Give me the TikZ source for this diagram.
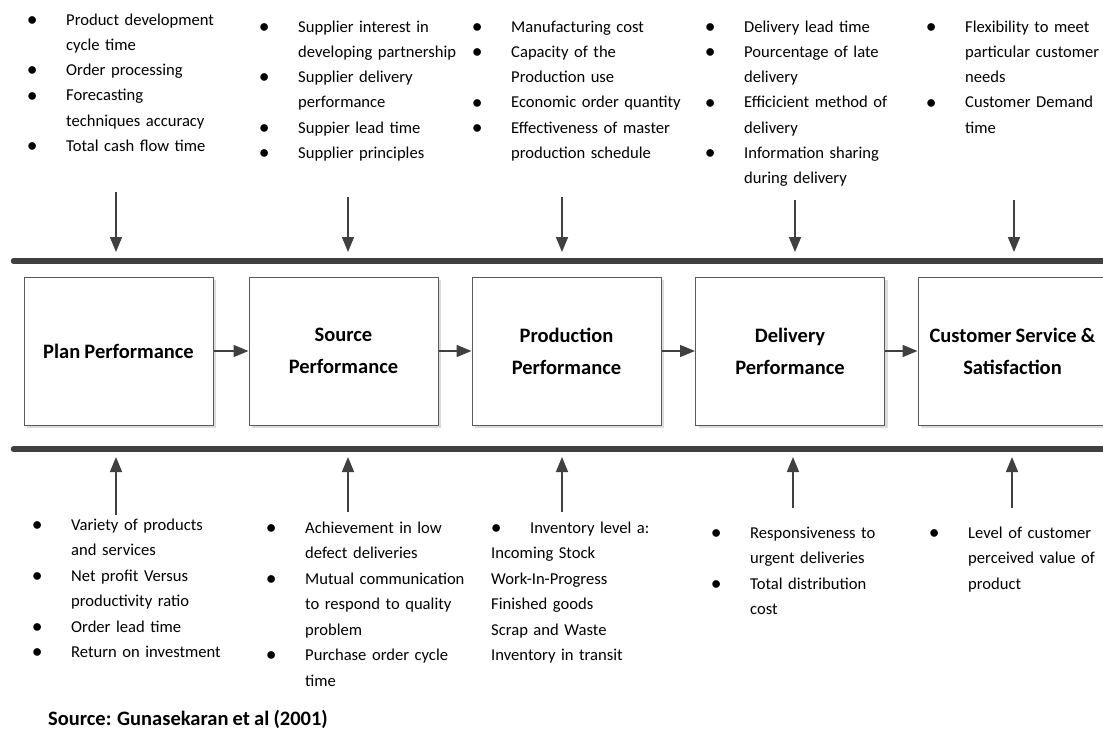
\documentclass[tikz,border=0pt]{standalone}
\usepackage{graphicx}
\usepackage{fontspec}
\setmainfont{Carlito}[WordSpace=0.9]
\usetikzlibrary{arrows.meta,shadows}

\definecolor{barcol}{HTML}{404040}
\definecolor{framecol}{HTML}{5a5a5a}

% bullet mark and continuation indent for the measure lists
\newcommand{\lbul}{\makebox[10pt][c]{\raisebox{-1.2pt}{\scalebox{1.3}{•}}}\hspace{29pt}}
\newcommand{\lcont}{\hspace*{39pt}}

\tikzset{
  bar/.style={draw=barcol, line width=5.5pt, line cap=round},
  arr/.style={draw=barcol, line width=1.6pt, -{Triangle[length=15pt,width=12pt]}},
  stage/.style={draw=framecol, line width=1pt, fill=white,
    minimum width=189pt, minimum height=148pt, inner sep=0pt, align=center,
    font=\bfseries\fontsize{20.5}{32}\selectfont,
    drop shadow={shadow xshift=3pt, shadow yshift=-3pt, fill=black!14, opacity=1}},
  toplist/.style={anchor=base west, inner sep=0pt, text width=230pt, align=left,
    font=\fontsize{16.6}{25.3}\selectfont},
  botlist/.style={anchor=base west, inner sep=0pt, text width=230pt, align=left,
    font=\fontsize{16.6}{25.5}\selectfont},
  caption/.style={anchor=base west, inner sep=0pt,
    font=\bfseries\fontsize{20.5}{24}\selectfont}
}

\begin{document}
\begin{tikzpicture}[x=1pt, y=-1pt]
\useasboundingbox (0,0) rectangle (1103,736);
\fill[white] (0,0) rectangle (1103,736);
\clip (0,0) rectangle (1103,736);

% horizontal bars
\coordinate (topL) at (13.5,261);
\coordinate (topR) at (1120,261);
\coordinate (botL) at (13.5,449);
\coordinate (botR) at (1120,449);
\draw[bar] (topL) -- (topR);
\draw[bar] (botL) -- (botR);

% stage boxes
\node[stage] (plan) at (118.5,351) {Plan Performance};
\node[stage] (source) at (343.5,351) {Source\\Performance};
\node[stage] (prod) at (566.5,351) {Production\\Performance};
\node[stage] (deliv) at (790,351) {Delivery\\Performance};
\node[stage] (cust) at (1012.5,351) {Customer Service \&\\Satisfaction};

\draw[arr] (plan) -- (source);
\draw[arr] (source) -- (prod);
\draw[arr] (prod) -- (deliv);
\draw[arr] (deliv) -- (cust);

% measures above the chain
\node[toplist] (t1) at (27,25) {\lbul Product development\\
\lcont cycle time\\
\lbul Order processing\\
\lbul Forecasting\\
\lcont techniques accuracy\\
\lbul Total cash flow time};

\node[toplist] (t2) at (259,32) {\lbul Supplier interest in\\
\lcont developing partnership\\
\lbul Supplier delivery\\
\lcont performance\\
\lbul Suppier lead time\\
\lbul Supplier principles};

\node[toplist] (t3) at (472,32) {\lbul Manufacturing cost\\
\lbul Capacity of the\\
\lcont Production use\\
\lbul Economic order quantity\\
\lbul Effectiveness of master\\
\lcont production schedule};

\node[toplist] (t4) at (705,32) {\lbul Delivery lead time\\
\lbul Pourcentage of late\\
\lcont delivery\\
\lbul Efficicient method of\\
\lcont delivery\\
\lbul Information sharing\\
\lcont during delivery};

\node[toplist] (t5) at (926,32) {\lbul Flexibility to meet\\
\lcont particular customer\\
\lcont needs\\
\lbul Customer Demand\\
\lcont time};

% measures below the chain
\node[botlist] (b1) at (32,530) {\lbul Variety of products\\
\lcont and services\\
\lbul Net profit Versus\\
\lcont productivity ratio\\
\lbul Order lead time\\
\lbul Return on investment};

\node[botlist] (b2) at (266,533) {\lbul Achievement in low\\
\lcont defect deliveries\\
\lbul Mutual communication\\
\lcont to respond to quality\\
\lcont problem\\
\lbul Purchase order cycle\\
\lcont time};

\node[botlist] (b3) at (491,533) {\lbul Inventory level a:\\
Incoming Stock\\
Work-In-Progress\\
Finished goods\\
Scrap and Waste\\
Inventory in transit};

\node[botlist] (b4) at (711,538) {\lbul Responsiveness to\\
\lcont urgent deliveries\\
\lbul Total distribution\\
\lcont cost};

\node[botlist] (b5) at (929,538) {\lbul Level of customer\\
\lcont perceived value of\\
\lcont product};

% arrows from the measure lists to the bars
\coordinate (d1s) at (116,192);  \coordinate (d1e) at (116,252);
\coordinate (d2s) at (348,197);  \coordinate (d2e) at (348,252);
\coordinate (d3s) at (562,197);  \coordinate (d3e) at (562,252);
\coordinate (d4s) at (795,200);  \coordinate (d4e) at (795,252);
\coordinate (d5s) at (1014,200); \coordinate (d5e) at (1014,252);
\draw[arr] (d1s) -- (d1e);
\draw[arr] (d2s) -- (d2e);
\draw[arr] (d3s) -- (d3e);
\draw[arr] (d4s) -- (d4e);
\draw[arr] (d5s) -- (d5e);

\coordinate (u1s) at (116,515);  \coordinate (u1e) at (116,457);
\coordinate (u2s) at (348,512);  \coordinate (u2e) at (348,457);
\coordinate (u3s) at (562,512);  \coordinate (u3e) at (562,457);
\coordinate (u4s) at (793,508);  \coordinate (u4e) at (793,457);
\coordinate (u5s) at (1012,508); \coordinate (u5e) at (1012,457);
\draw[arr] (u1s) -- (u1e);
\draw[arr] (u2s) -- (u2e);
\draw[arr] (u3s) -- (u3e);
\draw[arr] (u4s) -- (u4e);
\draw[arr] (u5s) -- (u5e);

\node[caption] (src) at (48,725) {Source: Gunasekaran et al (2001)};
\end{tikzpicture}
\end{document}
